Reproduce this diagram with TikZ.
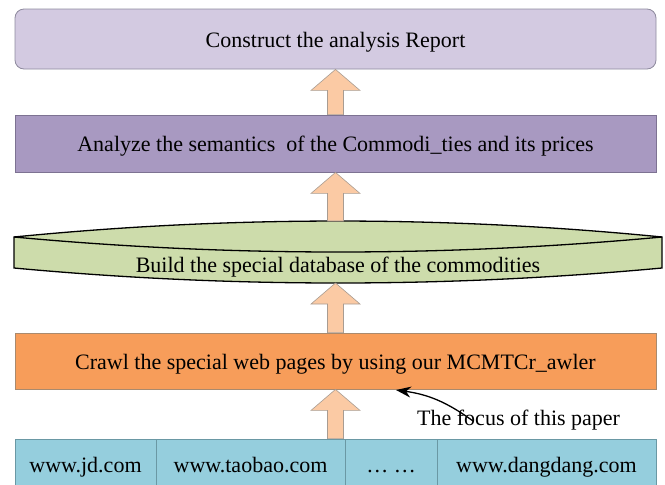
\documentclass[tikz,border=0pt]{standalone}
\usepackage{fontspec}
\setmainfont{Liberation Serif}
\usetikzlibrary{calc,arrows.meta}

\definecolor{reportfill}{HTML}{D3CAE1}
\definecolor{reportline}{HTML}{8E8A9E}
\definecolor{semfill}{HTML}{A899C1}
\definecolor{semline}{HTML}{7D7292}
\definecolor{dbfill}{HTML}{CDDCAB}
\definecolor{crawlfill}{HTML}{F79D5A}
\definecolor{crawlline}{HTML}{A98A6E}
\definecolor{sitefill}{HTML}{95CEDD}
\definecolor{siteline}{HTML}{6A98A4}
\definecolor{arrowfill}{HTML}{FBCAA4}
\definecolor{arrowline}{HTML}{A89C92}

% hollow block arrow from a tail point up to a tip point
\newcommand\fatarrow[2]{%
  \draw[blockarrow] let \p1=(#1), \p2=(#2) in
    (\x1-8pt,\y1) -- (\x1-8pt,\y2-21pt) -- (\x1-24.5pt,\y2-21pt) -- (\x2,\y2)
    -- (\x1+24.5pt,\y2-21pt) -- (\x1+8pt,\y2-21pt) -- (\x1+8pt,\y1) -- cycle;}

\begin{document}
\begin{tikzpicture}[x=1pt,y=-1pt,
  every node/.style={font=\fontsize{22}{26}\selectfont},
  stage/.style={line width=0.8pt, minimum width=641pt, inner sep=0pt,
    text height=20pt, text depth=4pt},
  site/.style={draw=siteline, fill=sitefill, line width=0.8pt, inner sep=0pt,
    minimum height=50pt, text height=20pt, text depth=4pt},
  blockarrow/.style={fill=arrowfill, draw=arrowline, line width=0.6pt},
  dbshape/.style={fill=dbfill, draw=black, line width=1.3pt, line join=miter}]

\useasboundingbox (0,0) rectangle (665,485);

% processing stages
\node[stage, draw=reportline, fill=reportfill, rounded corners=9pt,
  minimum height=60pt] (report) at (335.5,39) {Construct the analysis Report};
\node[stage, draw=semline, fill=semfill, minimum height=57pt]
  (analyze) at (335.5,143.5) {Analyze the semantics\ \ of the Commodi\_ties and its prices};
\node[stage, draw=crawlline, fill=crawlfill, minimum height=56pt]
  (crawl) at (335.5,361) {Crawl the special web pages by using our MCMTCr\_awler};

% database drum
\filldraw[dbshape] (14,237) .. controls (230,215.7) and (446,215.7) .. (662,237)
  -- (662,268) .. controls (446,288) and (230,288) .. (14,268) -- cycle;
\draw[dbshape, fill=none] (14,237) .. controls (230,257) and (446,257) .. (662,237);
\node[inner sep=0pt, text height=20pt, text depth=4pt] (db) at (338,264)
  {Build the special database of the commodities};
\coordinate (dbtop) at (335.5,221);
\coordinate (dbbot) at (335.5,283);

% source web sites
\node[site, minimum width=141pt] (jd) at (85.5,464) {www.jd.com};
\node[site, minimum width=189pt] (taobao) at (250.5,464) {www.taobao.com};
\node[site, minimum width=92pt] (dots) at (391,464) {… …};
\node[site, minimum width=219pt] (dd) at (546.5,464) {www.dangdang.com};

% flow between the stages
\fatarrow{analyze.north}{report.south}
\fatarrow{dbtop}{analyze.south}
\fatarrow{crawl.north}{dbbot}
\fatarrow{crawl.south |- taobao.north}{crawl.south}

% annotation
\node[anchor=base west, inner sep=0pt] (focus) at (417,425) {The focus of this paper};
\coordinate (ftail) at (473,421);
\coordinate (ftip) at (396,390);
\draw[line width=1.3pt, -{Stealth[length=15pt,width=11pt]}] (ftail) to[bend right=14] (ftip);

\end{tikzpicture}
\end{document}
